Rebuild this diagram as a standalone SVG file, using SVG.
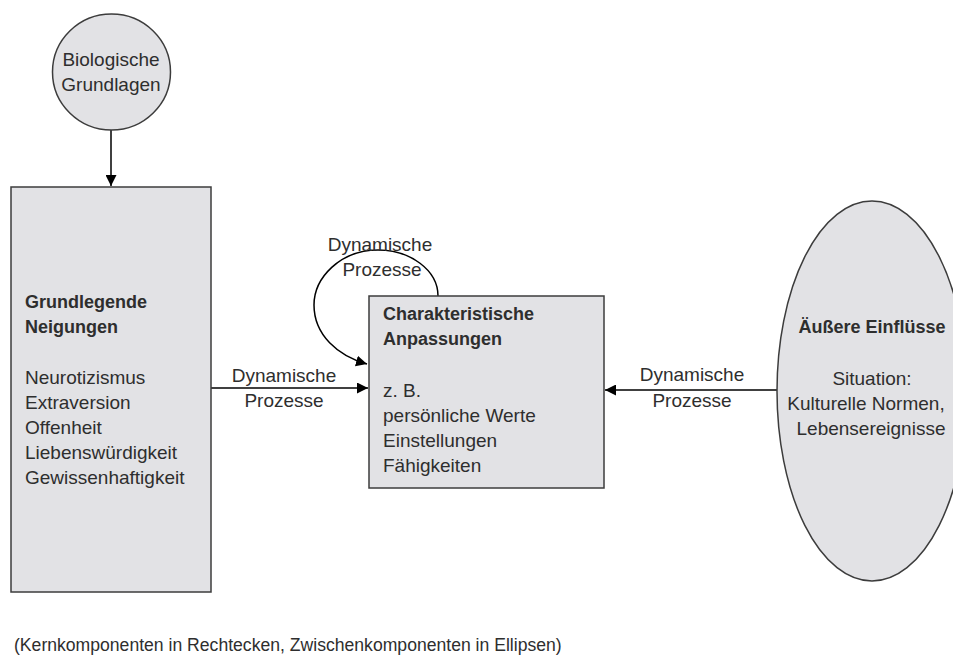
<svg xmlns="http://www.w3.org/2000/svg" width="953" height="657" viewBox="0 0 953 657">
<defs>
<style>
.shape{fill:#e2e2e5;stroke:#3c3c3c;stroke-width:1.5}
.t{font-family:"Liberation Sans",Arial,sans-serif;font-size:19px;fill:#2e2e2e}
.b{font-weight:bold;font-size:18px}
.c{text-anchor:middle}
.edge{fill:none;stroke:#000;stroke-width:1.5}
</style>
<marker id="arr" viewBox="0 0 10 10" refX="10" refY="5" markerWidth="11" markerHeight="11" markerUnits="userSpaceOnUse" orient="auto">
<path d="M0,0 L10,5 L0,10 z" fill="#000"/>
</marker>
</defs>
<rect width="953" height="657" fill="#fff"/>
<g id="connectors">
<line class="edge" x1="111" y1="130" x2="111" y2="186" marker-end="url(#arr)"/>
<line class="edge" x1="211" y1="388" x2="368" y2="388" marker-end="url(#arr)"/>
<line class="edge" x1="777" y1="390" x2="605" y2="390" marker-end="url(#arr)"/>
<path class="edge" d="M438,296 C438,270 410,250 378,250 C340,250 314,278 314,305 C314,335 338,356 367,364" marker-end="url(#arr)"/>
<text class="t c" x="284" y="382">Dynamische</text>
<text class="t c" x="284" y="407">Prozesse</text>
<text class="t c" x="692" y="381">Dynamische</text>
<text class="t c" x="692" y="407">Prozesse</text>
<text class="t c" x="380" y="251">Dynamische</text>
<text class="t c" x="382" y="276">Prozesse</text>
</g>
<g id="bio">
<ellipse class="shape" cx="111.5" cy="72" rx="59" ry="58"/>
<text class="t c" x="111" y="66">Biologische</text>
<text class="t c" x="111" y="91">Grundlagen</text>
</g>
<g id="grundlegende">
<rect class="shape" x="11" y="187" width="200" height="405"/>
<text class="t b" x="25" y="308">Grundlegende</text>
<text class="t b" x="25" y="333">Neigungen</text>
<text class="t" x="25" y="384">Neurotizismus</text>
<text class="t" x="25" y="409">Extraversion</text>
<text class="t" x="25" y="434">Offenheit</text>
<text class="t" x="25" y="459">Liebenswürdigkeit</text>
<text class="t" x="25" y="484">Gewissenhaftigkeit</text>
</g>
<g id="charakteristische">
<rect class="shape" x="369" y="296" width="235" height="192"/>
<text class="t b" x="383" y="320">Charakteristische</text>
<text class="t b" x="383" y="345">Anpassungen</text>
<text class="t" x="383" y="397">z. B.</text>
<text class="t" x="383" y="422">persönliche Werte</text>
<text class="t" x="383" y="447">Einstellungen</text>
<text class="t" x="383" y="472">Fähigkeiten</text>
</g>
<g id="aeussere">
<ellipse class="shape" cx="872" cy="391" rx="95" ry="190"/>
<text class="t b c" x="872" y="333">Äußere Einflüsse</text>
<text class="t c" x="872" y="385">Situation:</text>
<text class="t c" x="866" y="410">Kulturelle Normen,</text>
<text class="t c" x="871" y="435">Lebensereignisse</text>
</g>
<text class="t" x="14" y="651" style="font-size:17.6px">(Kernkomponenten in Rechtecken, Zwischenkomponenten in Ellipsen)</text>
</svg>
